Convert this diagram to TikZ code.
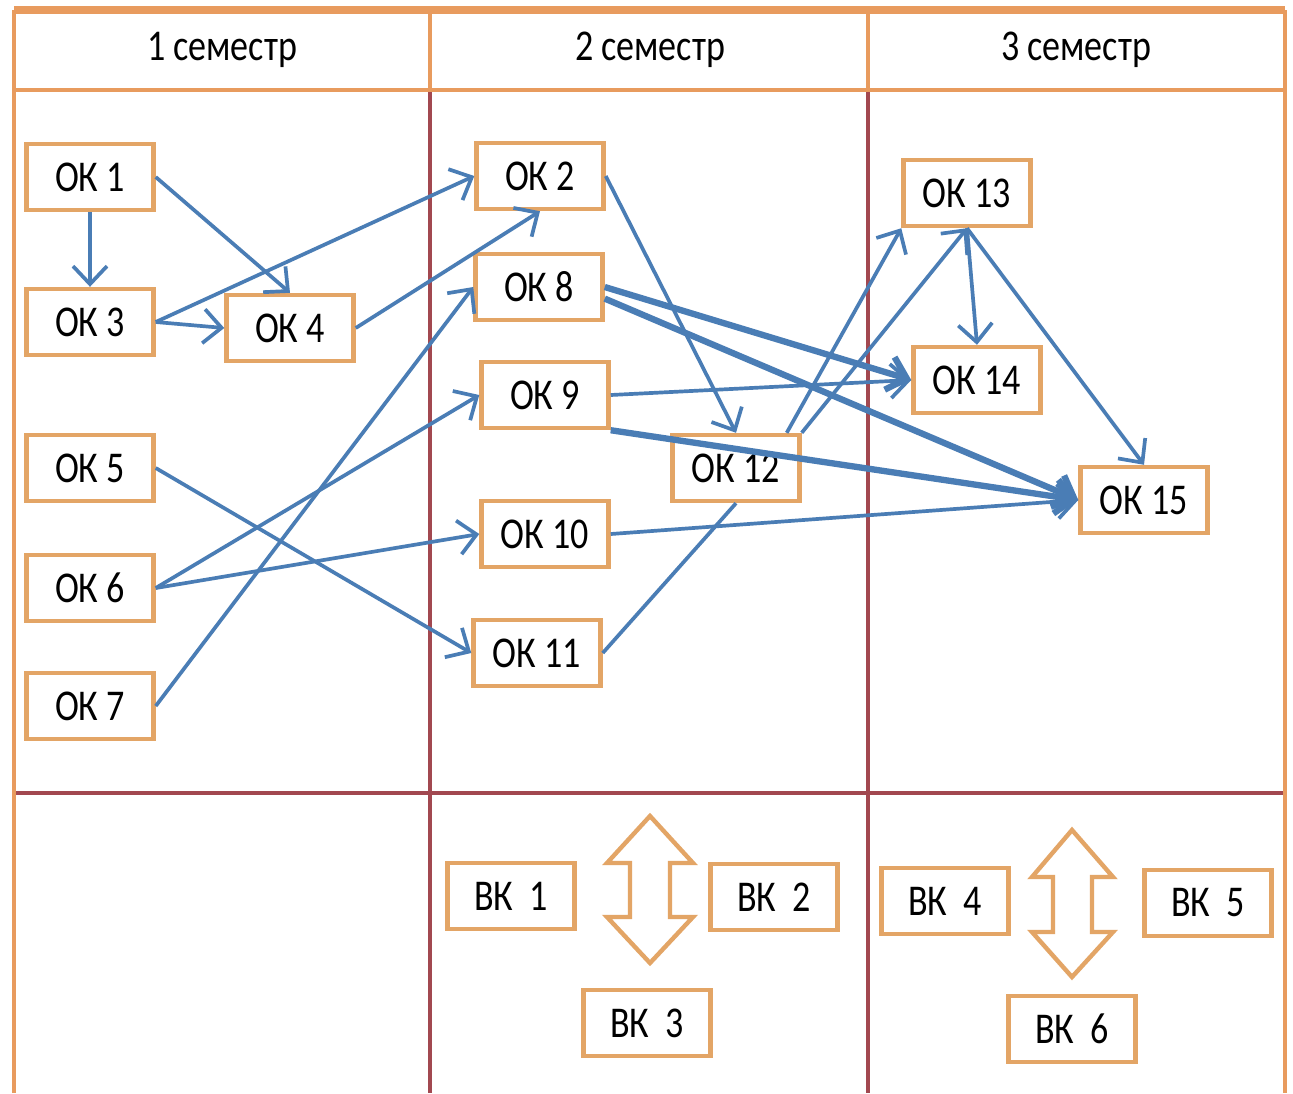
\documentclass[tikz,border=0pt]{standalone}
\usepackage{fontspec}
\setmainfont{Carlito}[FakeStretch=0.82]
\usetikzlibrary{arrows.meta}
\definecolor{boxorange}{HTML}{E3A566}
\definecolor{hdrorange}{HTML}{E89B5E}
\definecolor{gridred}{HTML}{A24850}
\definecolor{arrblue}{HTML}{4A7DB5}

\begin{document}
\begin{tikzpicture}[x=0.01cm, y=-0.01cm,
    ok/.style={draw=boxorange, line width=1.25pt, fill=white, minimum width=1.27cm,
        minimum height=0.66cm, inner sep=0pt, font=\fontsize{12.5}{14}\selectfont},
    hdr/.style={font=\fontsize{12.5}{14}\selectfont},
    link/.style={draw=arrblue, line width=1.05pt, -{Straight Barb[length=1.8mm,width=3.4mm]}},
    heavy/.style={link, line width=1.8pt},
    plain/.style={draw=arrblue, line width=1.05pt},
    dblarrow/.style={draw=boxorange, line width=1.25pt, fill=white, line join=miter}]
    \useasboundingbox[fill=white] (0,0) rectangle (1293,1093);
    % table
    \draw[gridred, line width=1.1pt] (430,90) -- (430,1093) (868,90) -- (868,1093)
        (14,793) -- (1285,793);
    \draw[hdrorange, line width=1.1pt] (14,1093) -- (14,10) (1285,10) -- (1285,1093);
    \draw[hdrorange, line width=1.4pt] (14,90) -- (1285,90) (430,10) -- (430,90)
        (868,10) -- (868,90);
    \draw[hdrorange, line width=2pt] (14,10) -- (1285,10);
    \node[hdr] (sem1) at (222,50) {1 семестр};
    \node[hdr] (sem2) at (650,50) {2 семестр};
    \node[hdr] (sem3) at (1076,50) {3 семестр};
    % 1 semester
    \node[ok] (ok1) at (90,177) {ОК 1};
    \node[ok] (ok3) at (90,322) {ОК 3};
    \node[ok] (ok4) at (290,328) {ОК 4};
    \node[ok] (ok5) at (90,468) {ОК 5};
    \node[ok] (ok6) at (90,588) {ОК 6};
    \node[ok] (ok7) at (90,706) {ОК 7};
    % 2 semester
    \node[ok] (ok2) at (540,176) {ОК 2};
    \node[ok] (ok8) at (539,287) {ОК 8};
    \node[ok] (ok9) at (545,395) {ОК 9};
    \node[ok] (ok10) at (545,534) {ОК 10};
    \node[ok] (ok11) at (537,653) {ОК 11};
    \node[ok] (ok12) at (736,468) {ОК 12};
    \node[ok] (vk1) at (511,896) {ВК\ \ 1};
    \node[ok] (vk2) at (774,897) {ВК\ \ 2};
    \node[ok] (vk3) at (647,1023) {ВК\ \ 3};
    \draw[dblarrow] (650,816) -- (693,863) -- (670,863) -- (670,917) -- (693,917)
        -- (650,963) -- (607,917) -- (630,917) -- (630,863) -- (607,863) -- cycle;
    % 3 semester
    \node[ok] (ok13) at (967,193) {ОК 13};
    \node[ok] (ok14) at (977,380) {ОК 14};
    \node[ok] (ok15) at (1144,500) {ОК 15};
    \node[ok] (vk4) at (945,901) {ВК\ \ 4};
    \node[ok] (vk5) at (1208,903) {ВК\ \ 5};
    \node[ok] (vk6) at (1072,1029) {ВК\ \ 6};
    \draw[dblarrow] (1072,830) -- (1113,877) -- (1092,877) -- (1092,932) -- (1113,932)
        -- (1072,977) -- (1032,932) -- (1053,932) -- (1053,877) -- (1032,877) -- cycle;
    % links
    \draw[link] (ok1) -- (ok3);
    \draw[link] (ok1.east) -- (ok4.north);
    \draw[link] (ok3.east) -- (ok4.west);
    \draw[link] (ok3.east) -- (ok2.west);
    \draw[link] (ok4.east) -- (ok2.south);
    \draw[link] (ok5.east) -- (ok11.west);
    \draw[link] (ok6.east) -- (ok9.west);
    \draw[link] (ok6.east) -- (ok10.west);
    \draw[link] (ok7.east) -- (ok8.west);
    \draw[link] (ok2.east) -- (ok12.north);
    \draw[heavy] (ok8.east) -- (ok14.west);
    \draw[heavy] (ok8.-10) -- (ok15.west);
    \draw[link] (ok9.east) -- (ok14.west);
    \draw[heavy] (ok9.south east) -- (ok15.west);
    \draw[link] (ok10.east) -- (ok15.west);
    \draw[plain] (ok11.east) -- (ok12.south);
    \draw[link] ([xshift=-0.15cm]ok12.north east) -- (ok13.south west);
    \draw[link] (ok12.north east) -- (ok13.south);
    \draw[link] (ok13.south) -- (ok14.north);
    \draw[link] (ok13.south) -- (ok15.north);
\end{tikzpicture}
\end{document}
